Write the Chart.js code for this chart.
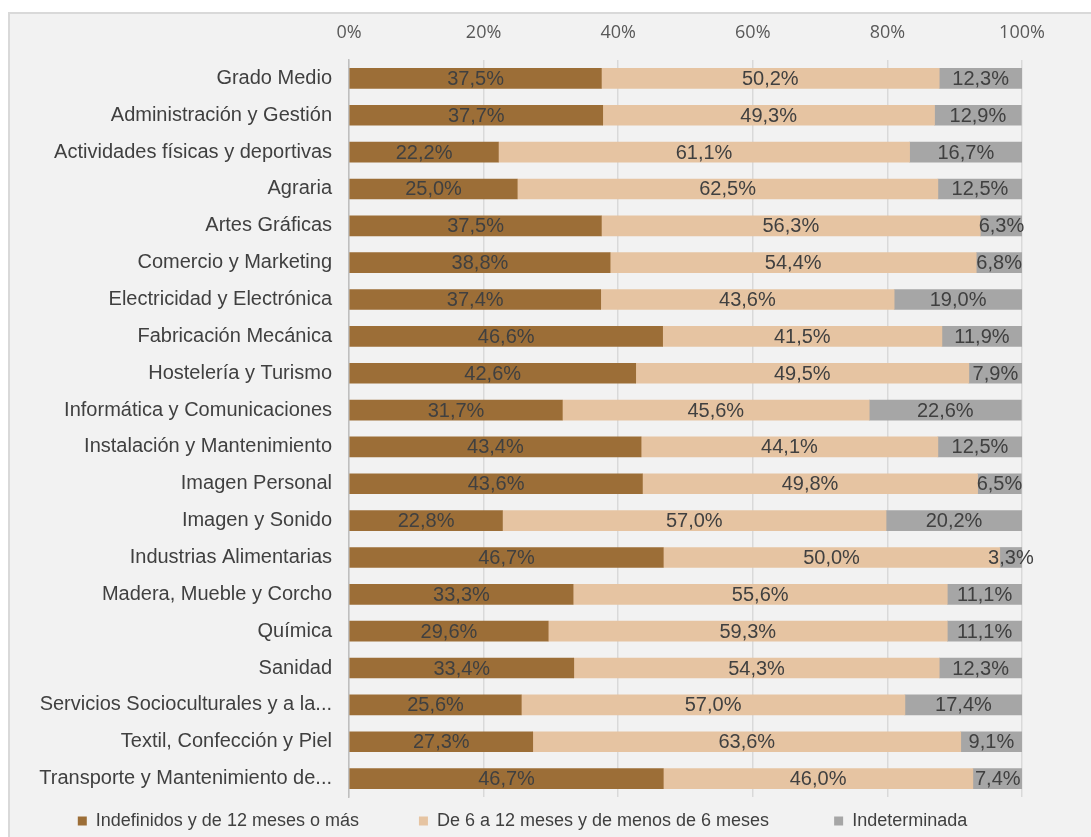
<!DOCTYPE html>
<html><head><meta charset="utf-8">
<script src="https://cdn.jsdelivr.net/npm/chart.js@4.4.1/dist/chart.umd.min.js"></script>
<style>
html,body{margin:0;padding:0;background:#ffffff;overflow:hidden;width:1091px;height:837px;}
#frame{position:absolute;left:8px;top:12px;width:1100px;height:850px;background:#f2f2f2;border-left:2px solid #d9d9d9;border-top:2px solid #d9d9d9;overflow:hidden;}
#wrap{position:absolute;left:0;top:0;width:1081px;height:826px;}
canvas{display:block;}
</style></head><body>
<div id="frame"><div id="wrap"><canvas id="c" width="1081" height="826"></canvas></div></div>
<script>
const categories = [
  'Grado Medio',
  'Administración y Gestión',
  'Actividades físicas y deportivas',
  'Agraria',
  'Artes Gráficas',
  'Comercio y Marketing',
  'Electricidad y Electrónica',
  'Fabricación Mecánica',
  'Hostelería y Turismo',
  'Informática y Comunicaciones',
  'Instalación y Mantenimiento',
  'Imagen Personal',
  'Imagen y Sonido',
  'Industrias Alimentarias',
  'Madera, Mueble y Corcho',
  'Química',
  'Sanidad',
  'Servicios Socioculturales y a la...',
  'Textil, Confección y Piel',
  'Transporte y Mantenimiento de...'
];
const seriesNames = [
  'Indefinidos y de 12 meses o más',
  'De 6 a 12 meses y de menos de 6 meses',
  'Indeterminada'
];
const indefinidos   = [37.5, 37.7, 22.2, 25.0, 37.5, 38.8, 37.4, 46.6, 42.6, 31.7, 43.4, 43.6, 22.8, 46.7, 33.3, 29.6, 33.4, 25.6, 27.3, 46.7];
const deSeisADoce   = [50.2, 49.3, 61.1, 62.5, 56.3, 54.4, 43.6, 41.5, 49.5, 45.6, 44.1, 49.8, 57.0, 50.0, 55.6, 59.3, 54.3, 57.0, 63.6, 46.0];
const indeterminada = [12.3, 12.9, 16.7, 12.5, 6.3, 6.8, 19.0, 11.9, 7.9, 22.6, 12.5, 6.5, 20.2, 3.3, 11.1, 11.1, 12.3, 17.4, 9.1, 7.4];
const tickLabels = ['0%', '20%', '40%', '60%', '80%', '100%'];

const colors = ['#9c6e37', '#e6c4a2', '#a6a6a6'];
const textColor = '#404040';
const legendGaps = ['         ', '          ', ''];

const fmt = v => v.toFixed(1).replace('.', ',') + '%';

const segmentLabels = {
  id: 'segmentLabels',
  afterDatasetsDraw(chart) {
    const ctx = chart.ctx;
    ctx.save();
    ctx.font = '20px "Liberation Sans", Arial, sans-serif';
    ctx.fillStyle = textColor;
    ctx.textAlign = 'center';
    ctx.textBaseline = 'middle';
    chart.data.datasets.forEach((ds, di) => {
      const meta = chart.getDatasetMeta(di);
      meta.data.forEach((el, i) => {
        const p = el.getProps(['x', 'base', 'y'], true);
        ctx.fillText(fmt(ds.data[i]), (p.x + p.base) / 2, p.y + 1);
      });
    });
    ctx.restore();
  }
};

new Chart(document.getElementById('c'), {
  type: 'bar',
  data: {
    labels: categories,
    datasets: [
      { label: seriesNames[0], data: indefinidos, backgroundColor: colors[0] },
      { label: seriesNames[1], data: deSeisADoce, backgroundColor: colors[1] },
      { label: seriesNames[2], data: indeterminada, backgroundColor: colors[2] }
    ]
  },
  options: {
    indexAxis: 'y',
    responsive: false,
    animation: false,
    devicePixelRatio: 1,
    datasets: { bar: { barThickness: 20 } },
    layout: { padding: { left: 13, right: 69, top: 0, bottom: 0 } },
    scales: {
      x: {
        position: 'top',
        stacked: true,
        min: 0,
        max: 100,
        ticks: {
          stepSize: 20,
          padding: 16,
          color: '#595959',
          font: { family: '"Open Sans", "Liberation Sans", sans-serif', size: 18 },
          callback: (v, i) => tickLabels[i]
        },
        grid: { color: '#d9d9d9', lineWidth: 1.5, drawTicks: false },
        border: { display: false },
        afterFit: s => { s.height = 46; }
      },
      y: {
        stacked: true,
        ticks: {
          padding: 17,
          color: textColor,
          font: { family: '"Liberation Sans", Arial, sans-serif', size: 20 }
        },
        grid: { display: false, drawTicks: false },
        border: { display: true, color: '#bfbfbf', width: 1.5 },
        afterFit: s => { s.width = 326; }
      }
    },
    plugins: {
      tooltip: { enabled: false },
      legend: {
        position: 'bottom',
        labels: {
          boxWidth: 9,
          boxHeight: 9,
          padding: 15,
          color: textColor,
          font: { family: '"Liberation Sans", Arial, sans-serif', size: 18 },
          generateLabels: chart => {
            const items = Chart.defaults.plugins.legend.labels.generateLabels(chart);
            items.forEach((it, i) => {
              it.lineWidth = 0;
              it.text = it.text + legendGaps[i];
            });
            return items;
          }
        }
      }
    }
  },
  plugins: [segmentLabels]
});
</script>
</body></html>
